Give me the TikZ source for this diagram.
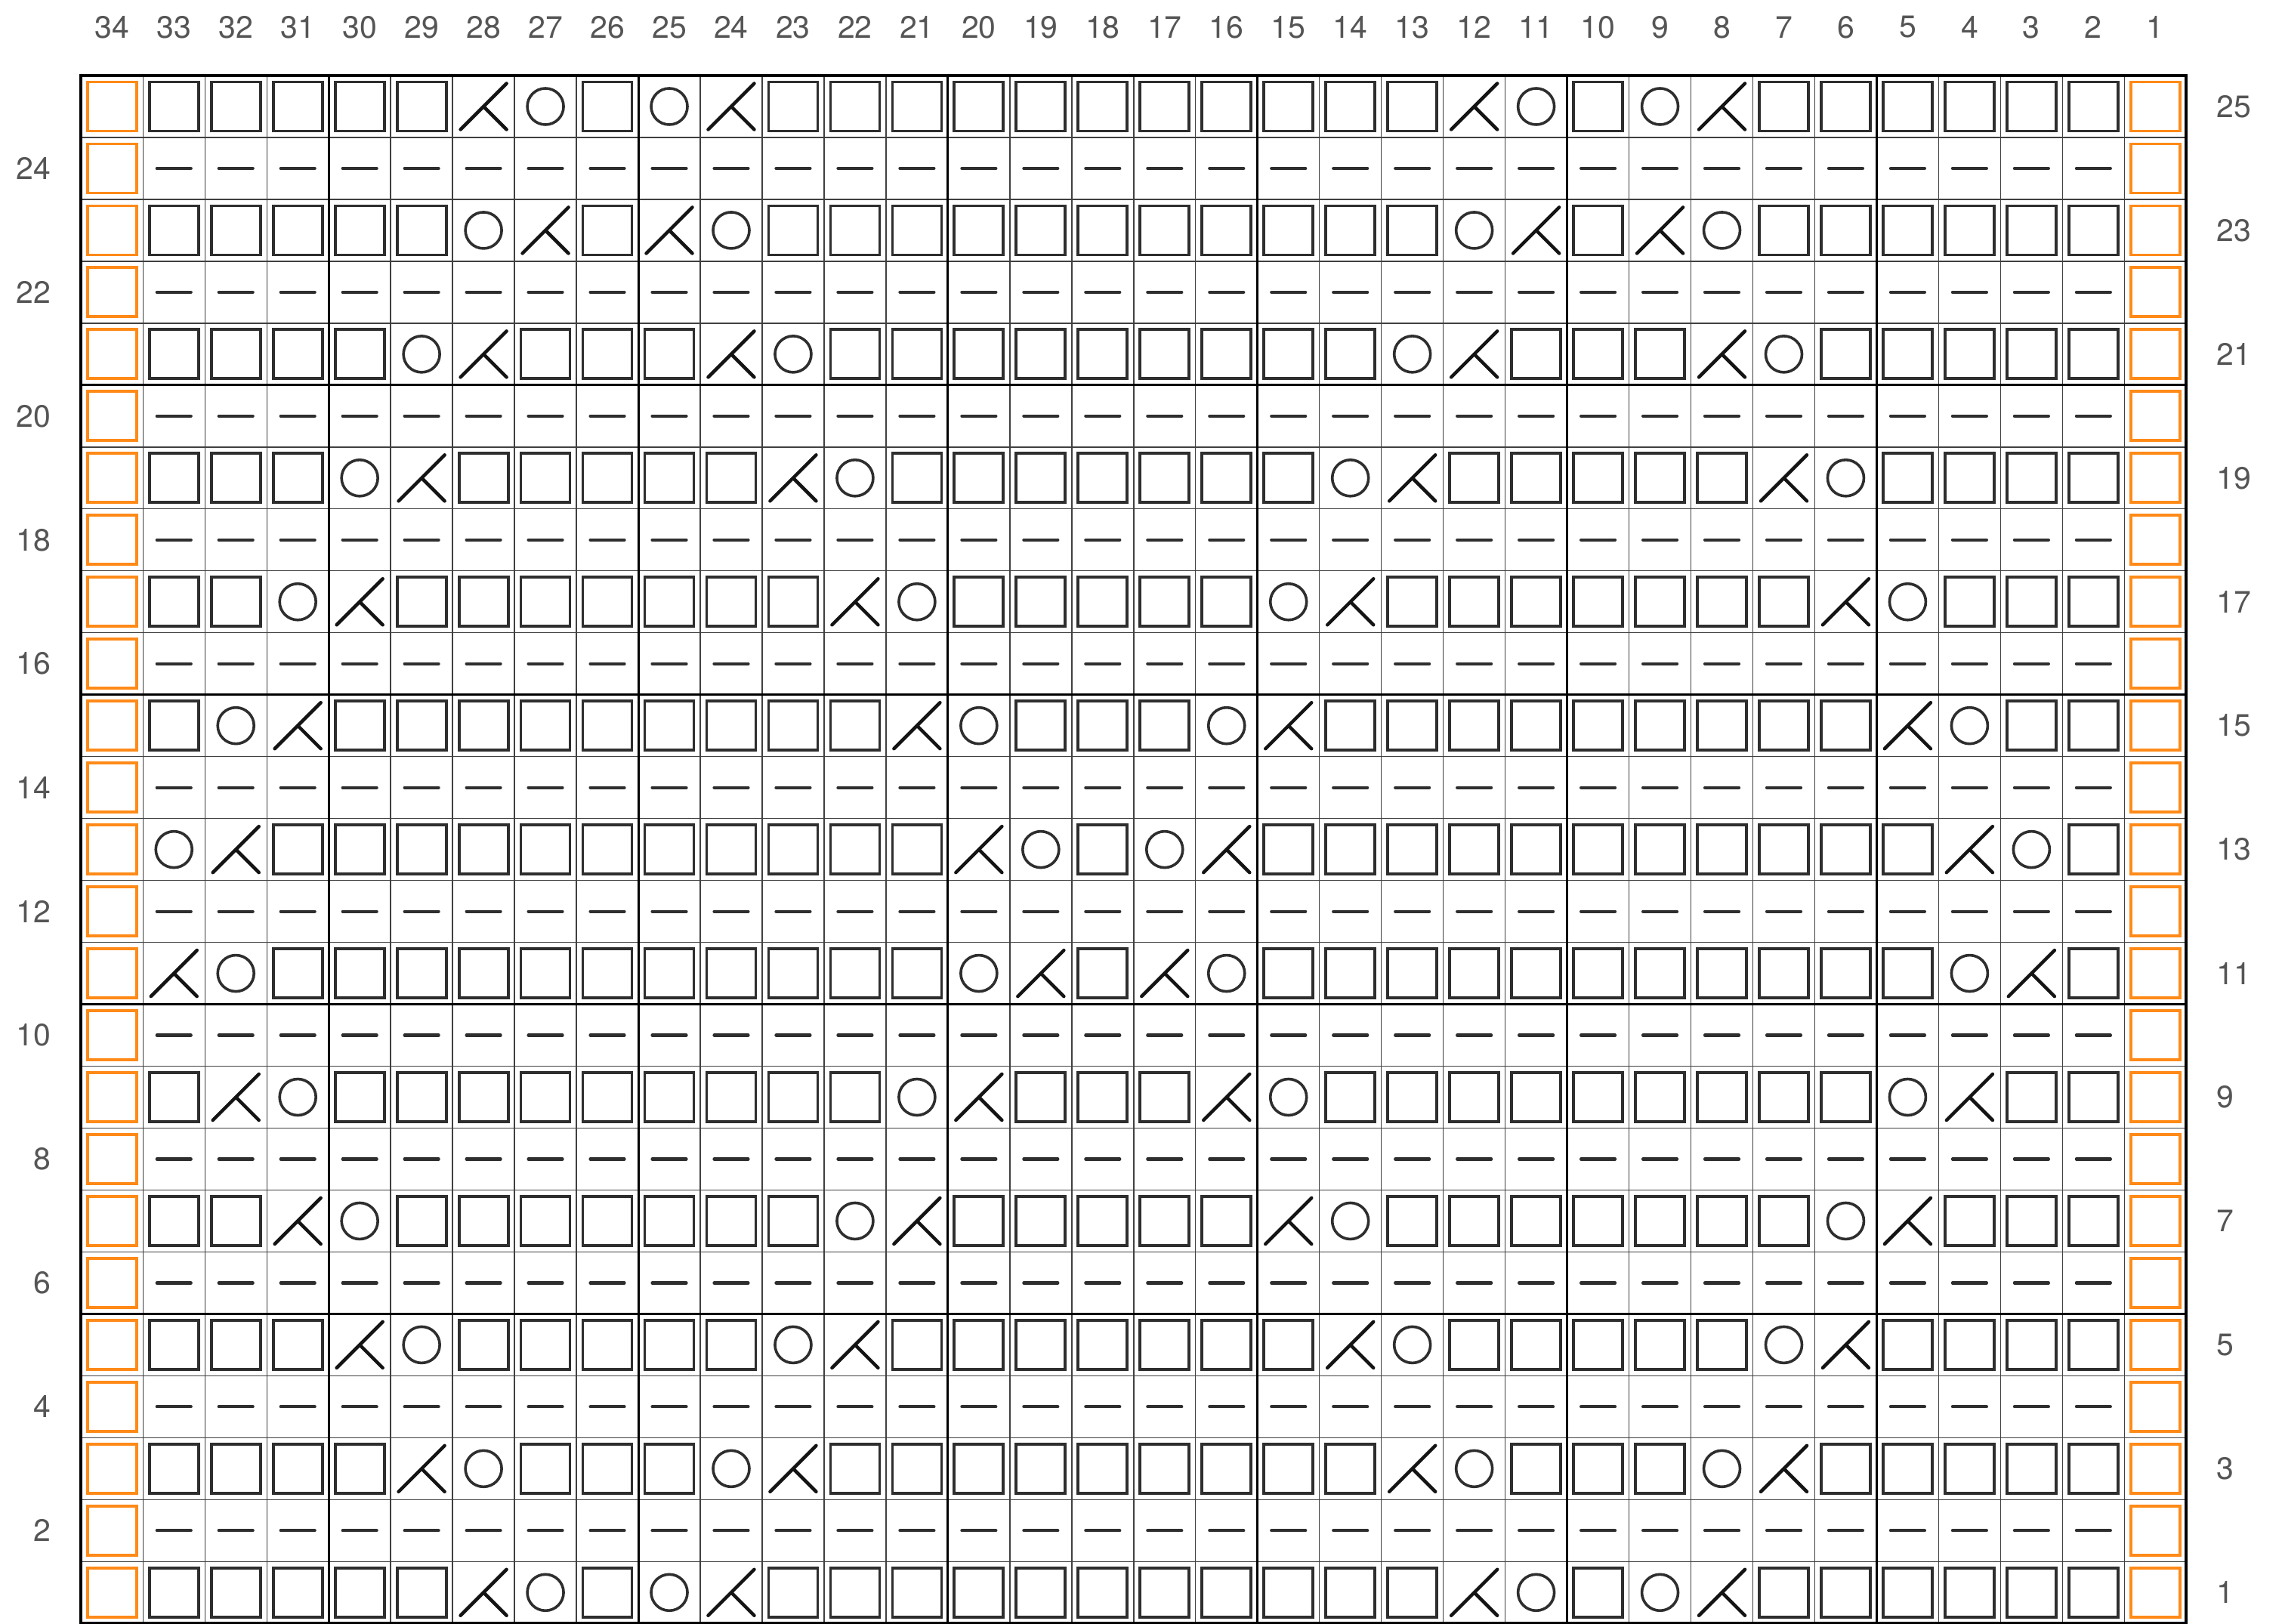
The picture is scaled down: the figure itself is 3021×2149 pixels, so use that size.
\documentclass[tikz,border=0pt]{standalone}
\usepackage{fontspec}
\setmainfont{TeX Gyre Heros}
\definecolor{orng}{HTML}{FF8A18}
\definecolor{symc}{HTML}{2E2E2E}
\definecolor{labc}{HTML}{555555}
\newcommand\labfont{\fontsize{41}{48}\selectfont}
\tikzset{
  knit/.style={draw=symc, line width=3.8pt},
  edgesq/.style={draw=orng, line width=3.8pt},
  purl/.style={draw=symc, line width=4.2pt, line cap=round},
  yo/.style={draw=symc, line width=3.6pt},
  dec/.style={draw=black!92, line width=4.5pt, line cap=round},
  gridthin/.style={draw=black!75, line width=1.4pt},
  gridthick/.style={draw=black, line width=3pt},
  gridouter/.style={draw=black, line width=3.8pt},
  lab/.style={text=labc, font=\labfont, inner sep=0pt}
}
\begin{document}
\begin{tikzpicture}[x=1pt,y=-1pt]
\useasboundingbox (0,0) rectangle (3021,2149);
\def\xo{107.3}
\def\yo{100}
\def\cw{81.97}
% edge stitches
\foreach \r in {1,...,25}{
  \foreach \c in {1,34}{
    \pgfmathsetmacro\cx{\xo+(34.5-\c)*\cw}
    \pgfmathsetmacro\cy{\yo+(25.5-\r)*\cw}
    \draw[edgesq] (\cx-32.5,\cy-32.5) rectangle (\cx+32.5,\cy+32.5);
  }
}
% purl rows
\foreach \r in {2,4,...,24}{
  \foreach \c in {2,...,33}{
    \pgfmathsetmacro\cx{\xo+(34.5-\c)*\cw}
    \pgfmathsetmacro\cy{\yo+(25.5-\r)*\cw}
    \draw[purl] (\cx-22.5,\cy) -- (\cx+22.5,\cy);
  }
}
% pattern rows
\foreach \r/\da/\db/\dc/\dd/\oa/\ob/\oc/\od in {
  25/28/24/12/8/27/25/11/9,
  23/27/25/11/9/28/24/12/8,
  21/28/24/12/8/29/23/13/7,
  19/29/23/13/7/30/22/14/6,
  17/30/22/14/6/31/21/15/5,
  15/31/21/15/5/32/20/16/4,
  13/32/20/16/4/33/19/17/3,
  11/33/19/17/3/32/20/16/4,
  9/32/20/16/4/31/21/15/5,
  7/31/21/15/5/30/22/14/6,
  5/30/22/14/6/29/23/13/7,
  3/29/23/13/7/28/24/12/8,
  1/28/24/12/8/27/25/11/9}{
  \foreach \c in {2,...,33}{
    \pgfmathsetmacro\cx{\xo+(34.5-\c)*\cw}
    \pgfmathsetmacro\cy{\yo+(25.5-\r)*\cw}
    \pgfmathtruncatemacro\isd{(\c==\da)||(\c==\db)||(\c==\dc)||(\c==\dd)}
    \pgfmathtruncatemacro\iso{(\c==\oa)||(\c==\ob)||(\c==\oc)||(\c==\od)}
    \ifnum\isd=1
      \draw[dec] (\cx-30.5,\cy+30.5) -- (\cx+30.5,\cy-30.5) (\cx,\cy) -- (\cx+30.5,\cy+30.5);
    \else
      \ifnum\iso=1
        \draw[yo] (\cx,\cy) circle[radius=24];
      \else
        \draw[knit] (\cx-32.5,\cy-32.5) rectangle (\cx+32.5,\cy+32.5);
      \fi
    \fi
  }
}
% grid
\foreach \j in {0,...,34}{
  \draw[gridthin] (\xo+\j*\cw,\yo) -- (\xo+\j*\cw,\yo+25*\cw);
}
\foreach \i in {0,...,25}{
  \draw[gridthin] (\xo,\yo+\i*\cw) -- (\xo+34*\cw,\yo+\i*\cw);
}
\foreach \j in {4,9,14,19,24,29}{
  \draw[gridthick] (\xo+\j*\cw,\yo) -- (\xo+\j*\cw,\yo+25*\cw);
}
\foreach \i in {5,10,15,20}{
  \draw[gridthick] (\xo,\yo+\i*\cw) -- (\xo+34*\cw,\yo+\i*\cw);
}
\draw[gridouter] (\xo,\yo) rectangle (\xo+34*\cw,\yo+25*\cw);
% labels
\foreach \c in {1,...,34}{
  \node[lab] (top\c) at ({\xo+(34.5-\c)*\cw},36) {\c};
}
\foreach \r in {2,4,...,24}{
  \node[lab, anchor=east] (left\r) at (67.5,{\yo+(25.5-\r)*\cw}) {\r};
}
\foreach \r in {1,3,...,25}{
  \node[lab, anchor=west] (right\r) at (2934,{\yo+(25.5-\r)*\cw}) {\r};
}
\end{tikzpicture}
\end{document}
